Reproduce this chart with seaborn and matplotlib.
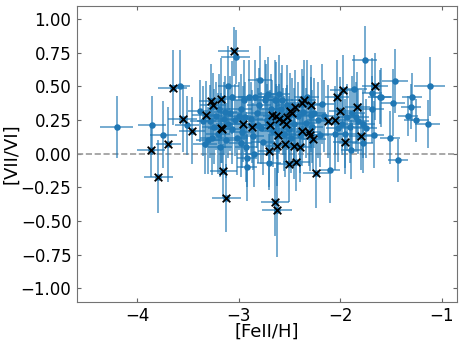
import numpy as np
import pandas as pd
import matplotlib
matplotlib.use("Agg")
import matplotlib.pyplot as plt
import seaborn as sns

STAR_BLUE = "#1f77b4"

# stars without a cross: [FeII/H], [VII/VI] and their errors
plain_feh = [
    -4.20, -3.85, -3.74, -3.58, -3.51, -3.38, -3.33, -3.10, -3.03, -2.92,
    -2.92, -2.79, -2.73, -2.63, -2.70, -2.10, -2.18, -2.29, -1.89, -1.86,
    -1.76, -1.69, -1.69, -1.67, -1.61, -1.60, -1.48, -1.51, -1.43, -1.46,
    -1.29, -1.30, -1.33, -1.25, -1.14, -1.12, -1.78, -1.78, -1.75, -1.84,
    -1.82, -1.90, -1.93, -1.95, -2.02, -2.05, -1.98, -1.88,
    -3.28, -3.24, -3.22, -3.20, -3.19, -3.14, -3.12, -3.10, -3.08, -3.06,
    -3.04, -3.02, -3.00, -2.98, -2.97, -2.95, -2.93, -2.90, -2.88, -2.86,
    -2.84, -2.82, -2.80, -2.78, -2.76, -2.74, -2.72, -2.71, -2.68, -2.66,
    -2.64, -2.60, -2.58, -2.57, -2.55, -2.52, -2.48, -2.45, -2.42, -2.40,
    -2.37, -2.34, -2.33, -2.28, -2.26, -2.22, -2.20, -2.16, -3.30, -3.18,
    -3.06, -2.98, -2.85, -3.35, -3.26, -3.13, -2.94, -2.81, -2.62, -2.50,
]
plain_vii = [
    0.20, 0.21, 0.14, 0.50, 0.21, 0.32, 0.07, 0.50, 0.72, -0.03,
    -0.10, 0.55, 0.42, 0.40, -0.07, -0.12, 0.37, 0.29, 0.03, 0.48,
    0.70, 0.45, 0.33, 0.14, 0.42, 0.42, 0.38, 0.12, -0.05, 0.54,
    0.42, 0.35, 0.28, 0.25, 0.22, 0.50, 0.08, 0.22, 0.19, 0.27,
    0.24, 0.20, 0.27, 0.15, 0.19, 0.15, 0.22, 0.30,
    0.24, 0.20, 0.28, 0.15, 0.33, 0.26, 0.10, 0.22, 0.30, 0.18,
    0.25, 0.12, 0.28, 0.33, 0.16, 0.40, 0.05, 0.42, 0.26, 0.13,
    0.42, 0.30, 0.36, 0.19, 0.09, 0.40, 0.25, 0.44, 0.33, 0.17,
    0.40, 0.44, 0.33, 0.40, 0.15, 0.36, 0.12, 0.22, 0.28, 0.14,
    0.31, 0.23, 0.42, 0.20, 0.30, 0.25, 0.14, 0.28, 0.10, 0.05,
    0.42, 0.08, 0.00, 0.24, 0.12, 0.31, 0.27, 0.21, 0.23, 0.18,
]
plain_feh_err = [
    0.16, 0.14, 0.13, 0.10, 0.12, 0.12, 0.12, 0.10, 0.14, 0.10,
    0.10, 0.12, 0.10, 0.12, 0.12, 0.10, 0.12, 0.12, 0.10, 0.12,
    0.12, 0.10, 0.12, 0.10, 0.12, 0.10, 0.12, 0.10, 0.10, 0.13,
    0.10, 0.10, 0.10, 0.12, 0.12, 0.15, 0.10, 0.12, 0.11, 0.12,
    0.10, 0.12, 0.11, 0.12, 0.12, 0.12, 0.11, 0.12,
    0.13, 0.12, 0.11, 0.12, 0.11, 0.12, 0.11, 0.12, 0.11, 0.12,
    0.11, 0.11, 0.12, 0.11, 0.12, 0.12, 0.11, 0.11, 0.12, 0.11,
    0.12, 0.11, 0.12, 0.11, 0.12, 0.11, 0.12, 0.10, 0.12, 0.11,
    0.12, 0.11, 0.12, 0.11, 0.12, 0.11, 0.12, 0.11, 0.12, 0.11,
    0.12, 0.11, 0.12, 0.11, 0.12, 0.11, 0.12, 0.11, 0.12, 0.12,
    0.12, 0.11, 0.11, 0.13, 0.12, 0.11, 0.12, 0.11, 0.12, 0.11,
]
plain_vii_err = [
    0.23, 0.22, 0.25, 0.27, 0.22, 0.23, 0.22, 0.30, 0.20, 0.22,
    0.25, 0.25, 0.25, 0.28, 0.20, 0.25, 0.30, 0.28, 0.22, 0.25,
    0.25, 0.26, 0.25, 0.25, 0.20, 0.22, 0.25, 0.20, 0.16, 0.24,
    0.18, 0.17, 0.15, 0.16, 0.18, 0.22, 0.22, 0.25, 0.22, 0.26,
    0.24, 0.27, 0.25, 0.26, 0.25, 0.27, 0.23, 0.28,
    0.27, 0.28, 0.25, 0.30, 0.26, 0.27, 0.28, 0.25, 0.28, 0.26,
    0.27, 0.28, 0.25, 0.26, 0.27, 0.30, 0.26, 0.28, 0.27, 0.25,
    0.28, 0.26, 0.28, 0.27, 0.25, 0.30, 0.27, 0.28, 0.26, 0.27,
    0.30, 0.29, 0.27, 0.26, 0.28, 0.30, 0.26, 0.27, 0.25, 0.28,
    0.27, 0.26, 0.28, 0.27, 0.26, 0.28, 0.24, 0.27, 0.25, 0.22,
    0.27, 0.25, 0.25, 0.26, 0.28, 0.27, 0.26, 0.28, 0.27, 0.25,
]

# stars marked with a black cross
cross_feh = [
    -3.86, -3.69, -3.79, -3.65, -3.55, -3.46, -3.32, -3.27, -3.25, -3.17,
    -3.17, -3.16, -3.15, -3.12, -3.05, -2.96, -2.87, -2.67, -2.63, -2.60,
    -2.56, -2.69, -2.61, -2.62, -2.70, -2.54, -2.45, -2.40, -2.50, -2.43,
    -2.64, -2.62, -2.53, -2.52, -2.49, -2.47, -2.44, -2.38, -2.36, -2.29,
    -2.38, -2.31, -2.30, -2.27, -2.24, -2.12, -2.05, -2.03, -1.97, -2.00,
    -1.95, -1.83, -1.80, -1.66,
]
cross_vii = [
    0.03, 0.07, -0.17, 0.49, 0.26, 0.17, 0.29, 0.39, 0.36, 0.41,
    0.19, 0.18, -0.13, -0.33, 0.76, 0.22, 0.20, 0.29, 0.28, 0.26,
    0.24, 0.21, 0.14, 0.06, 0.02, 0.07, 0.06, 0.05, -0.08, -0.06,
    -0.36, -0.42, 0.22, 0.27, 0.32, 0.30, 0.35, 0.38, 0.40, 0.36,
    0.17, 0.16, 0.14, 0.11, -0.14, 0.24, 0.25, 0.42, 0.47, 0.32,
    0.09, 0.35, 0.13, 0.50,
]
cross_feh_err = [
    0.14, 0.12, 0.14, 0.14, 0.14, 0.13, 0.14, 0.12, 0.13, 0.12,
    0.13, 0.12, 0.13, 0.14, 0.15, 0.12, 0.12, 0.12, 0.13, 0.12,
    0.11, 0.12, 0.10, 0.12, 0.11, 0.13, 0.11, 0.12, 0.12, 0.13,
    0.14, 0.15, 0.11, 0.12, 0.11, 0.12, 0.12, 0.11, 0.12, 0.12,
    0.11, 0.12, 0.11, 0.13, 0.13, 0.12, 0.11, 0.12, 0.13, 0.11,
    0.12, 0.12, 0.11, 0.13,
]
cross_vii_err = [
    0.20, 0.28, 0.27, 0.28, 0.25, 0.25, 0.25, 0.28, 0.24, 0.30,
    0.26, 0.25, 0.20, 0.25, 0.18, 0.28, 0.27, 0.26, 0.24, 0.26,
    0.25, 0.26, 0.28, 0.30, 0.27, 0.24, 0.25, 0.26, 0.28, 0.22,
    0.25, 0.35, 0.27, 0.24, 0.28, 0.26, 0.27, 0.25, 0.30, 0.30,
    0.26, 0.25, 0.27, 0.24, 0.26, 0.27, 0.25, 0.28, 0.26, 0.25,
    0.24, 0.26, 0.25, 0.25,
]

x_ticks = [-4, -3, -2, -1]
y_ticks = [-1.00, -0.75, -0.50, -0.25, 0.00, 0.25, 0.50, 0.75, 1.00]

stars = pd.DataFrame({
    "feh": plain_feh + cross_feh,
    "vii": plain_vii + cross_vii,
    "feh_err": plain_feh_err + cross_feh_err,
    "vii_err": plain_vii_err + cross_vii_err,
})
crossed = pd.DataFrame({"feh": cross_feh, "vii": cross_vii})

sns.set_style("ticks")
plt.rcParams["text.color"] = "black"
plt.rcParams["axes.labelcolor"] = "black"
plt.rcParams["xtick.labelcolor"] = "black"
plt.rcParams["ytick.labelcolor"] = "black"

fig = plt.figure(figsize=(4.64, 3.45), dpi=100)
ax = fig.add_axes([0.166, 0.1255, 0.819, 0.858])

ax.errorbar(
    stars["feh"], stars["vii"],
    xerr=stars["feh_err"], yerr=stars["vii_err"],
    fmt="none", ecolor=STAR_BLUE, elinewidth=1.2, alpha=0.72, zorder=2
)
sns.scatterplot(
    data=stars, x="feh", y="vii", ax=ax,
    color=STAR_BLUE, s=22, linewidth=0, zorder=3
)
sns.scatterplot(
    data=crossed, x="feh", y="vii", ax=ax,
    marker="x", color="black", s=30, linewidth=1.3, zorder=4
)
ax.axhline(0, color="0.6", linestyle="--", linewidth=1.2, zorder=1)

ax.set_xlim(-4.59, -0.85)
ax.set_ylim(-1.1, 1.1)
ax.set_xticks(x_ticks)
ax.set_yticks(y_ticks)
ax.set_yticklabels([f"{t:.2f}".replace("-", "\u2212") for t in y_ticks])
ax.tick_params(direction="in", top=True, right=True, labelsize=12,
               length=3, color="0.4", labelcolor="black", pad=4)
for spine in ax.spines.values():
    spine.set_color("0.45")
ax.set_xlabel("[FeII/H]", fontsize=13, color="black")
ax.set_ylabel("[VII/VI]", fontsize=13, color="black")
ax.xaxis.set_label_coords(0.5, -0.072)
ax.yaxis.set_label_coords(-0.15, 0.5)

fig.savefig("out.png", dpi=100)
